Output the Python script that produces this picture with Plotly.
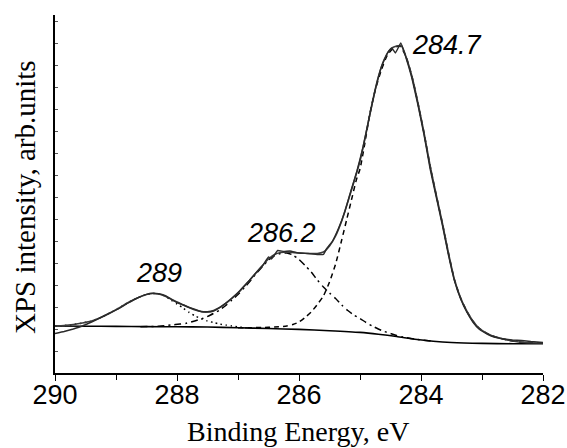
import plotly.graph_objects as go

# ---- data (y in arbitrary units) ----
bg_x = [290.0, 289.5, 289.0, 288.5, 288.0, 287.5, 287.0, 286.5, 286.0, 285.5, 285.0,
        284.7, 284.4, 284.1, 283.8, 283.5, 283.0, 282.5, 282.0]
bg_y = [47.0, 46.8, 46.6, 46.4, 46.2, 46.0, 45.3, 44.5, 43.6, 42.3, 40.6,
        38.8, 36.5, 33.8, 31.8, 30.5, 29.6, 29.3, 29.2]

exp_x = [290.0, 289.85, 289.7, 289.55, 289.4, 289.25, 289.1, 288.95, 288.8, 288.65, 288.5,
         288.4, 288.3, 288.2, 288.1, 288.0, 287.9, 287.8, 287.7, 287.6, 287.5, 287.4, 287.3,
         287.2, 287.1, 287.0, 286.9, 286.8, 286.7, 286.6, 286.5, 286.45, 286.35, 286.25,
         286.15, 286.0, 285.85, 285.7, 285.6, 285.55, 285.45, 285.35, 285.25, 285.15, 285.05,
         284.95, 284.85, 284.75, 284.65, 284.55, 284.48, 284.42, 284.33, 284.25, 284.15,
         284.05, 283.95, 283.85, 283.75, 283.65, 283.55, 283.45, 283.35, 283.25, 283.15,
         283.05, 282.9, 282.8, 282.65, 282.5, 282.35, 282.2, 282.0]
exp_y = [39.5, 41.5, 44.0, 47.0, 51.0, 55.5, 60.0, 64.5, 70.0, 75.0, 78.7,
         79.7, 79.2, 77.5, 74.0, 70.5, 68.0, 65.5, 63.5, 61.3, 61.0, 62.0, 65.5,
         70.0, 75.0, 80.5, 87.0, 93.5, 100.5, 107.0, 116.0, 114.0, 122.5, 121.5,
         122.0, 120.0, 119.5, 118.5, 118.5, 124.0, 132.0, 145.0, 161.0, 182.0, 202.0,
         226.0, 255.0, 283.0, 306.0, 320.0, 325.0, 320.0, 330.0, 316.0, 295.0,
         268.0, 238.0, 204.0, 176.0, 148.0, 118.0, 92.0, 74.0, 61.0, 51.0,
         44.0, 38.5, 36.0, 34.0, 33.0, 32.5, 31.5, 30.5]

fit_x = [290.0, 289.85, 289.7, 289.55, 289.4, 289.25, 289.1, 288.95, 288.8, 288.65, 288.5,
         288.4, 288.3, 288.2, 288.1, 288.0, 287.9, 287.8, 287.7, 287.6, 287.5, 287.4, 287.3,
         287.2, 287.1, 287.0, 286.9, 286.8, 286.7, 286.6, 286.5, 286.4, 286.3, 286.2, 286.1,
         286.0, 285.85, 285.7, 285.6, 285.5, 285.4, 285.3, 285.2, 285.1, 285.0, 284.9, 284.8,
         284.7, 284.6, 284.5, 284.4, 284.32, 284.25, 284.15, 284.05, 283.95, 283.85, 283.75,
         283.65, 283.55, 283.45, 283.35, 283.25, 283.15, 283.05, 282.9, 282.8, 282.65, 282.5,
         282.3, 282.0]
fit_y = [47.0, 47.5, 48.5, 50.0, 52.0, 55.5, 60.0, 65.0, 70.5, 75.0, 78.5,
         79.5, 79.0, 77.0, 74.0, 71.0, 68.3, 65.5, 63.0, 61.5, 61.2, 62.5, 65.5,
         69.5, 74.5, 80.0, 86.5, 93.5, 100.5, 107.5, 114.0, 118.5, 120.5, 121.0, 120.5,
         120.0, 119.5, 119.5, 121.0, 127.0, 137.0, 152.0, 171.0, 191.0, 212.0, 240.0, 270.0,
         296.0, 314.0, 324.0, 327.0, 327.0, 317.0, 297.0, 270.0, 240.0, 207.0, 178.0,
         150.0, 120.0, 93.0, 75.0, 62.0, 52.0, 45.0, 39.0, 36.5, 34.0, 32.0,
         30.5, 30.0]

p289_x = [290.0, 289.85, 289.7, 289.55, 289.4, 289.25, 289.1, 288.95, 288.8, 288.65, 288.5,
          288.4, 288.3, 288.2, 288.1, 288.0, 287.9, 287.8, 287.7, 287.6, 287.5, 287.4, 287.3,
          287.2, 287.1, 287.0, 286.8]
p289_y = [47.0, 47.5, 48.5, 50.0, 52.0, 55.5, 60.0, 65.0, 70.5, 75.0, 78.5,
          79.5, 79.0, 77.0, 73.0, 69.0, 65.0, 60.5, 57.0, 54.2, 52.0, 50.5, 49.0,
          48.0, 47.0, 46.0, 45.0]

p286_x = [288.6, 288.3, 288.1, 287.95, 287.85, 287.71, 287.57, 287.45, 287.3, 287.2, 287.1,
          287.0, 286.9, 286.8, 286.7, 286.6, 286.5, 286.4, 286.3, 286.2, 286.1, 286.0, 285.9,
          285.8, 285.7, 285.6, 285.5, 285.4, 285.3, 285.2, 285.1, 285.0, 284.9, 284.8, 284.7,
          284.6, 284.5, 284.4, 284.3, 284.1, 283.8]
p286_y = [46.3, 46.8, 48.0, 49.0, 49.7, 52.0, 54.7, 58.0, 63.0, 67.5, 73.0,
          78.5, 85.0, 92.0, 99.5, 106.5, 113.0, 117.5, 119.5, 120.0, 118.0, 113.5, 107.5,
          101.0, 93.0, 86.0, 80.0, 74.5, 68.0, 62.5, 58.0, 54.5, 50.5, 47.0, 44.0,
          41.5, 39.5, 37.5, 36.0, 33.8, 31.8]

p284_x = [287.0, 286.8, 286.6, 286.4, 286.2, 286.1, 286.0, 285.9, 285.8, 285.7, 285.6,
          285.5, 285.4, 285.3, 285.22, 285.14, 285.06, 285.0, 284.92, 284.84, 284.75, 284.65,
          284.55, 284.45, 284.35, 284.25, 284.15, 284.05, 283.95, 283.85, 283.75, 283.65,
          283.55, 283.45, 283.35, 283.25, 283.15, 283.05, 282.9, 282.8, 282.65, 282.5,
          282.3, 282.0]
p284_y = [45.3, 45.3, 45.5, 46.0, 47.0, 48.5, 51.0, 55.5, 61.0, 68.5, 77.0,
          91.0, 109.0, 133.0, 153.0, 173.0, 193.0, 204.0, 230.0, 259.0, 283.0, 303.0,
          318.0, 325.0, 327.0, 317.0, 297.0, 270.0, 240.0, 207.0, 178.0, 150.0,
          120.0, 93.0, 75.0, 62.0, 52.0, 45.0, 39.0, 36.5, 34.0, 32.0,
          30.5, 30.0]

peak_labels = ["289", "286.2", "284.7"]
x_ticks = [290, 288, 286, 284, 282]

# ---- figure ----
W, H = 567, 448
ML, MR, MT, MB = 55, 24, 15, 75

fig = go.Figure()
fig.add_trace(go.Scatter(x=bg_x, y=bg_y, mode="lines",
                         line=dict(color="#000000", width=1.6, shape="spline", smoothing=0.6)))
fig.add_trace(go.Scatter(x=p289_x, y=p289_y, mode="lines",
                         line=dict(color="#000000", width=1.5, dash="1.5px,3.5px", shape="spline", smoothing=0.6)))
fig.add_trace(go.Scatter(x=p286_x, y=p286_y, mode="lines",
                         line=dict(color="#000000", width=1.5, dash="7px,4px,2px,4px", shape="spline", smoothing=0.6)))
fig.add_trace(go.Scatter(x=p284_x, y=p284_y, mode="lines",
                         line=dict(color="#000000", width=1.5, dash="5px,4px", shape="spline", smoothing=0.6)))
fig.add_trace(go.Scatter(x=fit_x, y=fit_y, mode="lines",
                         line=dict(color="#3c3c3c", width=1.6, shape="spline", smoothing=0.6)))
fig.add_trace(go.Scatter(x=exp_x, y=exp_y, mode="lines",
                         line=dict(color="#2a2a2a", width=1.4, shape="spline", smoothing=0.3)))

ann_font = dict(family="Liberation Sans, Arial, sans-serif", size=27, color="#000000")
fig.add_annotation(x=288.30, y=100, text="<i>%s</i>" % peak_labels[0], showarrow=False,
                   xanchor="center", yanchor="middle", font=ann_font)
fig.add_annotation(x=286.28, y=140, text="<i>%s</i>" % peak_labels[1], showarrow=False,
                   xanchor="center", yanchor="middle", font=ann_font)
fig.add_annotation(x=284.18, y=328, text="<i>%s</i>" % peak_labels[2], showarrow=False,
                   xanchor="left", yanchor="middle", font=ann_font)

# axis titles placed as paper annotations
pw = W - ML - MR
ph = H - MT - MB
title_font = dict(family="Liberation Serif, Times New Roman, serif", size=28, color="#000000")
fig.add_annotation(xref="paper", yref="paper",
                   x=(298 - ML) / pw, y=(H - MB - 449) / ph,
                   text="Binding Energy, eV", showarrow=False,
                   xanchor="center", yanchor="bottom", font=title_font)
fig.add_annotation(xref="paper", yref="paper",
                   x=(25 - ML) / pw, y=(H - MB - 197) / ph,
                   text="XPS intensity, arb.units", showarrow=False, textangle=-90,
                   xanchor="center", yanchor="middle",
                   font=dict(family="Liberation Serif, Times New Roman, serif", size=29, color="#000000"))

fig.update_layout(
    width=W, height=H,
    margin=dict(l=ML, r=MR, t=MT, b=MB),
    paper_bgcolor="white", plot_bgcolor="white",
    showlegend=False,
    xaxis=dict(
        range=[290, 282], tickvals=x_ticks, ticktext=[str(v) for v in x_ticks],
        automargin=False,
        showgrid=False, zeroline=False, showline=True, linecolor="#000000", linewidth=1.5,
        ticks="outside", ticklen=6, tickwidth=1.3, tickcolor="#000000",
        ticklabelstandoff=-9,
        minor=dict(dtick=1, tick0=282, ticks="outside", ticklen=5, tickwidth=1.2, tickcolor="#000000"),
        tickfont=dict(family="Liberation Sans, Arial, sans-serif", size=27, color="#000000"),
    ),
    yaxis=dict(
        range=[0, 358], automargin=False,
        showgrid=False, zeroline=False, showline=True, linecolor="#000000",
        linewidth=1.5, ticks="inside", tick0=0, dtick=22, ticklen=3, tickwidth=1,
        tickcolor="#555555", showticklabels=False,
    ),
)

fig.write_html("out.html", config={"displayModeBar": False},
               post_script="document.body.style.margin='0px';document.body.style.overflow='hidden';")
